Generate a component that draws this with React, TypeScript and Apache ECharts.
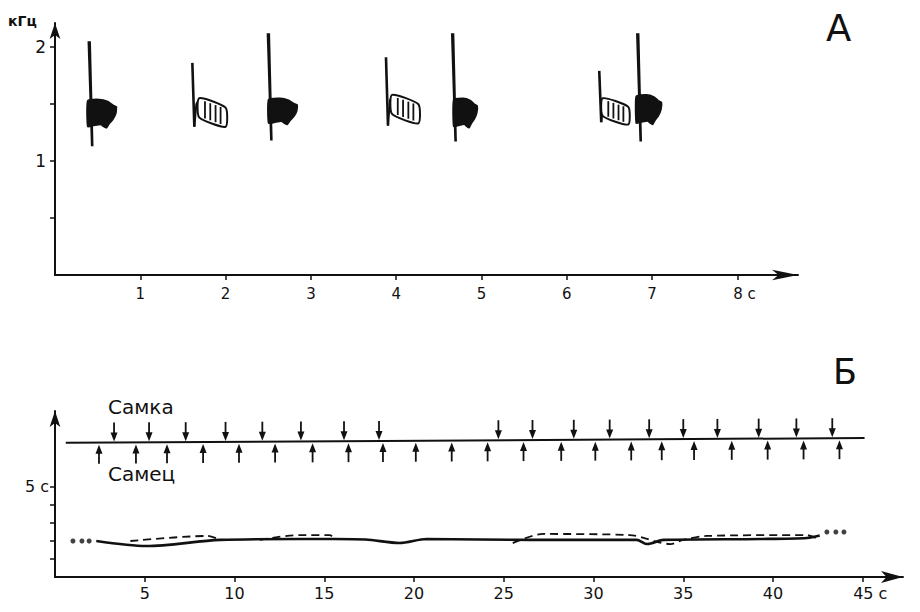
import React, { useEffect, useRef } from "react";
import * as echarts from "echarts";

// ---- Panel A: calls (time in s, frequency in kHz) ----
const callStart = [0.40, 1.61, 2.50, 3.88, 4.66, 6.38, 6.83];
const tailStart = [0.43, 1.69, 2.55, 3.95, 4.72, 6.42, 6.86];
const tailEnd = [0.72, 2.00, 2.84, 4.26, 4.95, 6.72, 7.11];
const freqMax = [2.05, 1.86, 2.12, 1.91, 2.12, 1.79, 2.12];
const freqMin = [1.13, 1.30, 1.18, 1.31, 1.17, 1.34, 1.17];
const tailHigh = [1.54, 1.55, 1.55, 1.58, 1.55, 1.55, 1.58];
const tailLow = [1.29, 1.30, 1.32, 1.33, 1.29, 1.32, 1.32];
const callKind = ["filled", "hatched", "filled", "hatched", "filled", "hatched", "filled"];

const topXTicks = [1, 2, 3, 4, 5, 6, 7, 8];
const topYTicks = [0.5, 1, 1.5, 2];
const topYLabels = [1, 2];

// ---- Panel Б: duet timeline (s) ----
const femaleCalls = [3.29, 5.24, 7.28, 9.5, 11.55, 13.7, 16.1, 18.05, 24.7, 26.6, 28.9, 30.9, 33.1, 35.0, 36.9, 39.2, 41.3, 43.3];
const maleCalls = [2.45, 4.51, 6.24, 8.25, 10.25, 12.26, 14.35, 16.35, 18.27, 20.1, 22.1, 24.1, 26.1, 28.2, 30.1, 32.1, 33.8, 35.6, 37.7, 39.7, 41.7, 43.7];
const timelineT = [0.6, 45.1];
const timelineY = [7.45, 7.72];

const maleIntT = [2.3, 5.1, 9.2, 13.6, 15.6, 17.3, 19.2, 20.7, 26.5, 32.4, 33.0, 33.9, 39.3, 41.9, 42.6];
const maleIntV = [2.0, 1.72, 2.06, 2.11, 2.11, 2.08, 1.89, 2.11, 2.06, 2.06, 1.83, 2.06, 2.11, 2.17, 2.3];
const femaleIntT = [4.2, 8.5, 9.2, null, 11.4, 13.6, 15.3, 15.6, null, 25.5, 27.2, 32.0, 34.3, 35.0, 36.3, 41.9, 42.5];
const femaleIntV = [2.0, 2.28, 2.06, null, 2.06, 2.33, 2.33, 2.11, null, 1.88, 2.39, 2.33, 1.83, 2.06, 2.28, 2.33, 2.1];
const dotsLeftT = [1.0, 1.5, 1.9];
const dotsLeftV = [2.0, 2.0, 2.0];
const dotsRightT = [43.0, 43.5, 43.95];
const dotsRightV = [2.5, 2.5, 2.5];

const botXTicks = [5, 10, 15, 20, 25, 30, 35, 40, 45];
const botYTicks = [1, 2, 3, 4, 5];
const botYLabels = [5];

const FONT = "'DejaVu Sans', 'Liberation Sans', Arial, sans-serif";
const BLACK = "#111";

const blobProfile = [
  [0, 0.05], [0.4, 0], [0.7, 0.07], [0.88, 0.2], [1, 0.26], [0.98, 0.5],
  [0.88, 0.7], [0.75, 0.85], [0.65, 1], [0.55, 0.95], [0.45, 0.88], [0.2, 0.92], [0, 0.95],
];

function lineYAt(t: number) {
  const f = (t - timelineT[0]) / (timelineT[1] - timelineT[0]);
  return timelineY[0] + f * (timelineY[1] - timelineY[0]);
}

function renderCall(params: any, api: any) {
  const cs = api.value(0), ts = api.value(1), te = api.value(2);
  const fMax = api.value(3), fMin = api.value(4), th = api.value(5), tl = api.value(6);
  const kind = api.value(7);
  const top = api.coord([cs, fMax]);
  const bot = api.coord([cs, fMin]);
  const a = api.coord([ts, th]);
  const c = api.coord([te, tl]);
  const children: any[] = [];
  if (kind === 0) {
    bot[0] += 3;
    children.push({
      type: "polygon",
      shape: { points: [[top[0] - 1.6, top[1]], [top[0] + 1.8, top[1]], [bot[0] + 1.4, bot[1]], [bot[0] - 1.2, bot[1]]] },
      style: { fill: BLACK },
    });
    const x0 = a[0] - 4;
    const w = c[0] - x0;
    const h = c[1] - a[1];
    children.push({
      type: "polygon",
      shape: { points: blobProfile.map(([u, v]) => [x0 + u * w, a[1] + v * h]), smooth: 0.15 },
      style: { fill: BLACK, stroke: BLACK, lineWidth: 1.5 },
    });
  } else {
    bot[0] += 2;
    children.push({
      type: "line",
      shape: { x1: top[0], y1: top[1], x2: bot[0], y2: bot[1] },
      style: { stroke: BLACK, lineWidth: 2.6 },
    });
    const h = c[1] - a[1];
    const s = 0.33 * h;
    const bh = h - s;
    children.push({
      type: "polyline",
      shape: { points: [[bot[0], bot[1]], [bot[0] + 2, a[1] + bh * 0.3], [a[0], a[1] + 1]] },
      style: { stroke: BLACK, lineWidth: 2, fill: "none" },
    });
    children.push({
      type: "polygon",
      shape: { points: [[a[0], a[1]], [c[0], a[1] + s], [c[0], c[1]], [a[0], a[1] + bh]], smooth: 0.2 },
      style: { fill: "#fff", stroke: BLACK, lineWidth: 2 },
    });
    [0.22, 0.42, 0.62, 0.81].forEach((u) => {
      const x = a[0] + u * (c[0] - a[0]);
      const y = a[1] + u * s;
      children.push({
        type: "line",
        shape: { x1: x, y1: y + 1, x2: x, y2: y + bh - 1 },
        style: { stroke: BLACK, lineWidth: 1.8 },
      });
    });
  }
  return { type: "group", children };
}

function renderArrow(params: any, api: any) {
  const t = api.value(0);
  const dir = api.value(2); // 1: down (female), -1: up (male)
  const p = api.coord([t, api.value(1)]);
  const x = p[0], y = p[1];
  if (dir === 1) {
    return {
      type: "group",
      children: [
        { type: "line", shape: { x1: x, y1: y - 20, x2: x, y2: y - 6 }, style: { stroke: BLACK, lineWidth: 1.8 } },
        { type: "polygon", shape: { points: [[x - 3.5, y - 10], [x + 3.5, y - 10], [x, y - 1]] }, style: { fill: BLACK } },
      ],
    };
  }
  return {
    type: "group",
    children: [
      { type: "line", shape: { x1: x, y1: y + 21, x2: x, y2: y + 6 }, style: { stroke: BLACK, lineWidth: 1.8 } },
      { type: "polygon", shape: { points: [[x - 3.5, y + 11], [x + 3.5, y + 11], [x, y + 2]] }, style: { fill: BLACK } },
    ],
  };
}

const axisLineStyle = { color: BLACK, width: 2 };

function buildOption() {
  const callData = callStart.map((cs, i) => [
    cs, tailStart[i], tailEnd[i], freqMax[i], freqMin[i], tailHigh[i], tailLow[i], callKind[i] === "filled" ? 0 : 1,
  ]);
  const arrowData = [
    ...femaleCalls.map((t) => [t, lineYAt(t), 1]),
    ...maleCalls.map((t) => [t, lineYAt(t), -1]),
  ];
  const maleLine = maleIntT.map((t, i) => [t, maleIntV[i]]);
  const femaleLine = femaleIntT.map((t, i) => (t === null ? ["-", "-"] : [t, femaleIntV[i]]));

  return {
    animation: false,
    backgroundColor: "#fff",
    textStyle: { fontFamily: FONT },
    grid: [
      { left: 55, top: 23, width: 743, height: 252 },
      { left: 55, top: 411, width: 848, height: 166 },
    ],
    xAxis: [
      {
        type: "value", gridIndex: 0, min: 0, max: 8.71,
        axisLine: { show: true, onZero: false, symbol: ["none", "arrow"], symbolSize: [8, 26], lineStyle: axisLineStyle },
        axisTick: { show: true, customValues: topXTicks, length: 5, lineStyle: { color: BLACK, width: 1.5 } },
        axisLabel: {
          customValues: topXTicks, color: BLACK, fontSize: 15, margin: 11, fontFamily: FONT,
          formatter: (v: number) => (v === 8 ? "{p|8 с}" : String(v)),
          rich: { p: { padding: [0, 0, 0, 14], fontSize: 15, color: BLACK, fontFamily: FONT } },
        },
        splitLine: { show: false },
      },
      {
        type: "value", gridIndex: 1, min: 0, max: 47.24,
        axisLine: { show: true, onZero: false, symbol: ["none", "arrow"], symbolSize: [9, 22], lineStyle: axisLineStyle },
        axisTick: { show: true, customValues: botXTicks, length: 5, lineStyle: { color: BLACK, width: 1.5 } },
        axisLabel: {
          customValues: botXTicks, color: BLACK, fontSize: 16, margin: 8, fontFamily: FONT,
          formatter: (v: number) => (v === 45 ? "{p|45 с}" : String(v)),
          rich: { p: { padding: [0, 0, 0, 15], fontSize: 16, color: BLACK, fontFamily: FONT } },
        },
        splitLine: { show: false },
      },
    ],
    yAxis: [
      {
        type: "value", gridIndex: 0, min: 0, max: 2.21,
        axisLine: { show: true, onZero: false, symbol: ["none", "arrow"], symbolSize: [8, 16], lineStyle: axisLineStyle },
        axisTick: { show: true, customValues: topYTicks, length: 5, lineStyle: { color: BLACK, width: 1.5 } },
        axisLabel: { customValues: topYLabels, color: BLACK, fontSize: 17, margin: 9, fontFamily: FONT },
        splitLine: { show: false },
      },
      {
        type: "value", gridIndex: 1, min: 0, max: 9.22,
        axisLine: { show: true, onZero: false, symbol: ["none", "arrow"], symbolSize: [8, 16], lineStyle: axisLineStyle },
        axisTick: { show: true, customValues: botYTicks, length: 5, lineStyle: { color: BLACK, width: 1.5 } },
        axisLabel: {
          customValues: botYLabels, color: BLACK, fontSize: 16, margin: 6, fontFamily: FONT,
          formatter: (v: number) => `${v} с`,
        },
        splitLine: { show: false },
      },
    ],
    series: [
      {
        type: "custom", xAxisIndex: 0, yAxisIndex: 0, clip: false,
        encode: { x: [0, 1, 2], y: [3, 4, 5, 6] },
        renderItem: renderCall, data: callData, silent: true,
      },
      {
        type: "line", xAxisIndex: 1, yAxisIndex: 1, showSymbol: false, silent: true,
        data: timelineT.map((t, i) => [t, timelineY[i]]),
        lineStyle: { color: BLACK, width: 2 },
      },
      {
        type: "custom", xAxisIndex: 1, yAxisIndex: 1, clip: false,
        encode: { x: 0, y: 1 }, renderItem: renderArrow, data: arrowData, silent: true,
      },
      {
        type: "line", xAxisIndex: 1, yAxisIndex: 1, showSymbol: false, smooth: 0.3, silent: true,
        data: maleLine, lineStyle: { color: BLACK, width: 2.6 },
      },
      {
        type: "line", xAxisIndex: 1, yAxisIndex: 1, showSymbol: false, smooth: 0.3, silent: true,
        connectNulls: false,
        data: femaleLine, lineStyle: { color: BLACK, width: 1.8, type: [8, 5] },
      },
      {
        type: "scatter", xAxisIndex: 1, yAxisIndex: 1, symbolSize: 5, silent: true,
        data: [...dotsLeftT.map((t, i) => [t, dotsLeftV[i]]), ...dotsRightT.map((t, i) => [t, dotsRightV[i]])],
        itemStyle: { color: BLACK },
      },
    ],
    graphic: [
      { type: "text", left: 8, top: 14, style: { text: "кГц", font: `bold 14px ${FONT}`, fill: BLACK } },
      { type: "text", left: 826, top: 10, style: { text: "А", font: `37px ${FONT}`, fill: BLACK } },
      { type: "text", left: 833, top: 354, style: { text: "Б", font: `35px ${FONT}`, fill: BLACK } },
      { type: "text", left: 108, top: 397, style: { text: "Самка", font: `20px ${FONT}`, fill: BLACK } },
      { type: "text", left: 108, top: 464, style: { text: "Самец", font: `20px ${FONT}`, fill: BLACK } },
    ],
  };
}

export default function App() {
  const ref = useRef<HTMLDivElement>(null);
  useEffect(() => {
    if (!ref.current) return;
    const chart = echarts.init(ref.current, null, { renderer: "svg" });
    chart.setOption(buildOption() as any);
    return () => chart.dispose();
  }, []);
  return <div ref={ref} style={{ position: "fixed", left: 0, top: 0, width: 920, height: 612, background: "#fff" }} />;
}
